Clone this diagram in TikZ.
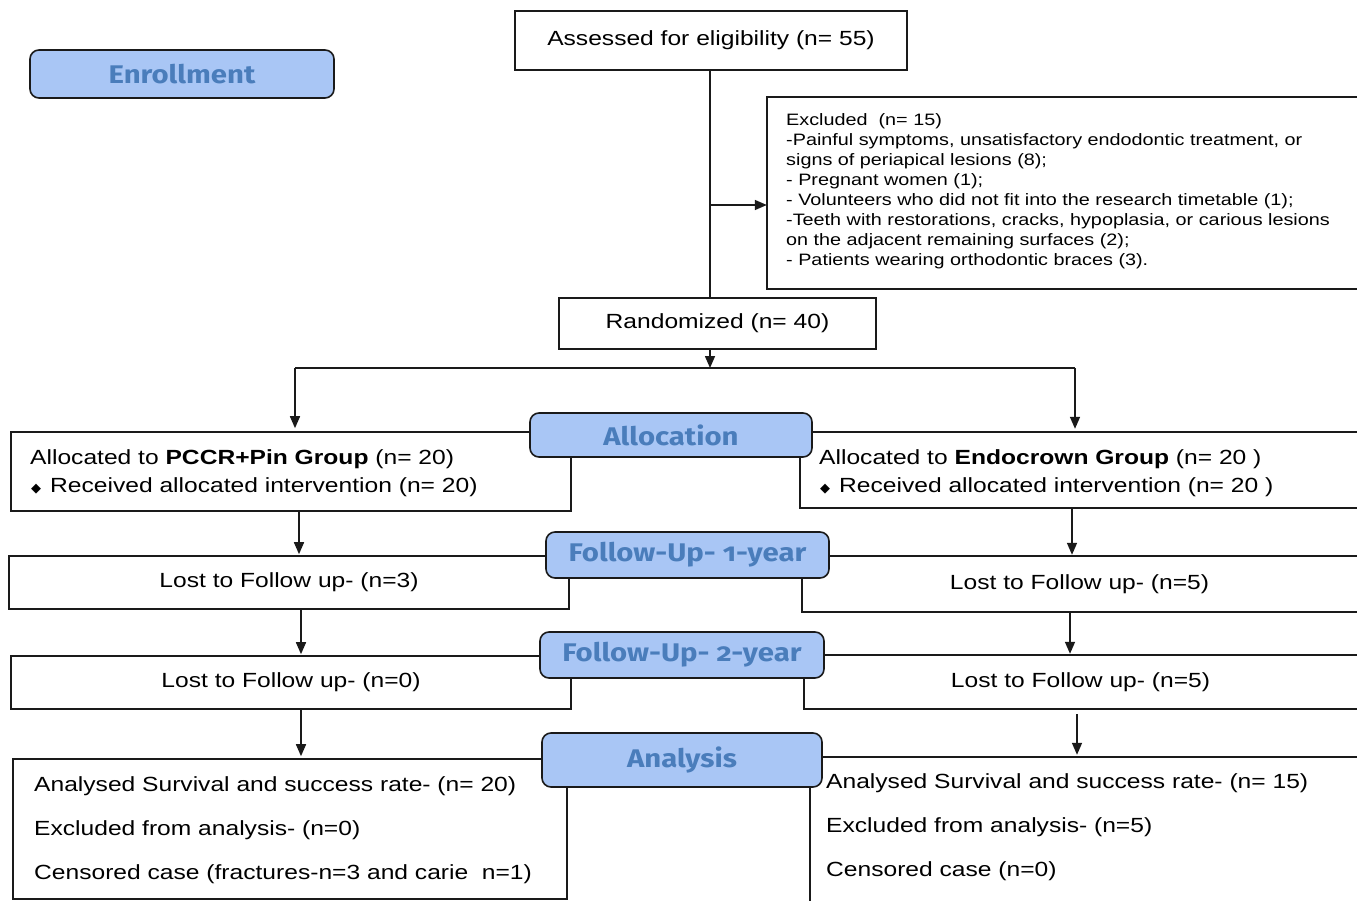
\documentclass[tikz,border=0pt]{standalone}
\usepackage{fontspec}
\setmainfont[FakeStretch=1.2]{Liberation Sans}
\newfontfamily\lblfont[Numbers=OldStyle,FakeStretch=1.15]{Fira Sans}
\newfontfamily\symfont{DejaVu Sans}
\usetikzlibrary{arrows.meta,calc}
\definecolor{lblfill}{HTML}{A9C6F5}
\definecolor{lbltext}{HTML}{4A7DBB}
\definecolor{ln}{HTML}{1A1A1A}
\begin{document}
\begin{tikzpicture}[x=1pt,y=-1pt,
  box/.style={draw=ln, line width=1.6pt, inner sep=0pt, font=\fontsize{20.5}{24}\selectfont},
  obox/.style={draw=none, inner sep=0pt, font=\fontsize{20.5}{24}\selectfont},
  txt/.style={anchor=north west, inner sep=0pt, align=left},
  lbl/.style={draw=ln, line width=1.6pt, fill=lblfill, rounded corners=9pt, inner sep=0pt,
    text=lbltext, font=\lblfont\bfseries\fontsize{25.5}{28}\selectfont},
  con/.style={draw=ln, line width=1.6pt},
  arr/.style={draw=ln, line width=1.6pt, -{Triangle[length=12pt,width=10pt]}}]
\useasboundingbox (0,0) rectangle (1357,901);

% ---------- boxes ----------
\node[box, minimum width=392pt, minimum height=59pt] (assess) at (711,40.5) {Assessed for eligibility (n= 55)};
\node[obox, minimum width=590pt, minimum height=192pt] (excl) at (1062,193) {};
\node[txt, font=\fontsize{16.5}{20.1}\selectfont] (excltxt) at (786,113) {Excluded\ \ (n= 15)\\
-Painful symptoms, unsatisfactory endodontic treatment, or\\
signs of periapical lesions (8);\\
- Pregnant women (1);\\
- Volunteers who did not fit into the research timetable (1);\\
-Teeth with restorations, cracks, hypoplasia, or carious lesions\\
on the adjacent remaining surfaces (2);\\
- Patients wearing orthodontic braces (3).};
\node[box, minimum width=317pt, minimum height=51pt] (rand) at (717.5,323.5) {Randomized (n= 40)};

\node[box, minimum width=560pt, minimum height=79pt] (lalloc) at (291,471.5) {};
\node[txt, font=\fontsize{20.5}{28}\selectfont] (lalloctxt) at (30,449.5) {Allocated to \textbf{PCCR+Pin Group} (n= 20)\\
\hspace*{1pt}{\symfont\fontsize{13}{13}\selectfont ◆}\hspace*{9pt}Received allocated intervention (n= 20)};
\node[obox, minimum width=557pt, minimum height=76pt] (ralloc) at (1078.5,470) {};
\node[txt, font=\fontsize{20.5}{28}\selectfont] (ralloctxt) at (819,449.5) {Allocated to \textbf{Endocrown Group} (n= 20 )\\
\hspace*{1pt}{\symfont\fontsize{13}{13}\selectfont ◆}\hspace*{9pt}Received allocated intervention (n= 20 )};

\node[box, minimum width=560pt, minimum height=53pt] (lf1) at (289,582.5) {Lost to Follow up- (n=3)};
\node[obox, minimum width=555pt, minimum height=56pt] (rf1) at (1079.5,584) {Lost to Follow up- (n=5)};
\node[box, minimum width=560pt, minimum height=53pt] (lf2) at (291,682.5) {Lost to Follow up- (n=0)};
\node[obox, minimum width=553pt, minimum height=54pt] (rf2) at (1080.5,682) {Lost to Follow up- (n=5)};

\node[box, minimum width=554pt, minimum height=140pt] (lan) at (290,829) {};
\node[txt, font=\fontsize{20.5}{44}\selectfont] (lantxt) at (34,776.5) {Analysed Survival and success rate- (n= 20)\\
Excluded from analysis- (n=0)\\
Censored case (fractures-n=3 and carie\ \ n=1)};
\node[obox, minimum width=547pt, minimum height=146pt] (ran) at (1083.5,830) {};
\node[txt, font=\fontsize{20.5}{44}\selectfont] (rantxt) at (826,773.5) {Analysed Survival and success rate- (n= 15)\\
Excluded from analysis- (n=5)\\
Censored case (n=0)};

% open boxes (right side runs off the picture)
\draw[con] (excl.north east) -| (excl.south west) -- (excl.south east);
\draw[con] (ralloc.north east) -| (ralloc.south west) -- (ralloc.south east);
\draw[con] (rf1.north east) -| (rf1.south west) -- (rf1.south east);
\draw[con] (rf2.north east) -| (rf2.south west) -- (rf2.south east);
\draw[con] (ran.north east) -| (ran.south west);

% ---------- connectors ----------
\coordinate (br) at (710,205);
\coordinate (jc) at (710,368);
\coordinate (jl) at (295,368);
\coordinate (jr) at (1075,368);
\coordinate (xa) at (299,0);
\coordinate (xb) at (1072,0);
\coordinate (xc) at (301,0);
\coordinate (xd) at (1070,0);
\coordinate (xe) at (1077,0);
\coordinate (ye) at (0,714);

\draw[con] (assess.south -| jc) -- (rand.north -| jc);
\draw[arr] (br) -- (br -| excl.west);
\draw[arr] (rand.south -| jc) -- (jc);
\draw[con] (jl) -- (jr);
\draw[arr, shorten >=3pt] (jl) -- (jl |- lalloc.north);
\draw[arr, shorten >=3pt] (jr) -- (jr |- ralloc.north);
\draw[arr, shorten >=1pt] (xa |- lalloc.south) -- (xa |- lf1.north);
\draw[arr, shorten >=1pt] (xb |- ralloc.south) -- (xb |- rf1.north);
\draw[arr, shorten >=1pt] (xc |- lf1.south) -- (xc |- lf2.north);
\draw[arr, shorten >=1pt] (xd |- rf1.south) -- (xd |- rf2.north);
\draw[arr, shorten >=2pt] (xc |- lf2.south) -- (xc |- lan.north);
\draw[arr, shorten >=2pt] (xe |- ye) -- (xe |- ran.north);

% ---------- stage labels ----------
\node[lbl, minimum width=304pt, minimum height=48pt] (enroll) at (182,74) {Enrollment};
\node[lbl, minimum width=282pt, minimum height=44pt] (alloclbl) at (671,435) {Allocation};
\node[lbl, minimum width=283pt, minimum height=46pt] (fu1lbl) at (687.5,555) {Follow-Up- 1-year};
\node[lbl, minimum width=284pt, minimum height=46pt] (fu2lbl) at (682,655) {Follow-Up- 2-year};
\node[lbl, minimum width=280pt, minimum height=54pt] (analbl) at (682,760) {Analysis};
\end{tikzpicture}
\end{document}
